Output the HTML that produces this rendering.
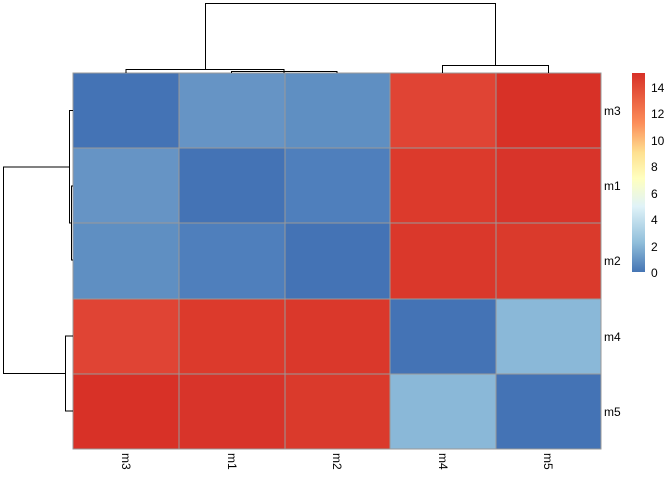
<!DOCTYPE html>
<html><head><meta charset="utf-8"><style>
html,body{margin:0;padding:0;background:#fff;width:672px;height:480px;overflow:hidden}
svg text{font-family:"Liberation Sans",sans-serif;font-size:12px;fill:#000}
</style></head><body>
<svg width="672" height="480" viewBox="0 0 672 480">
<defs><linearGradient id="g" x1="0" y1="1" x2="0" y2="0">
<stop offset="0" stop-color="#4575b4"/>
<stop offset="0.15" stop-color="#91bfdb"/>
<stop offset="0.33" stop-color="#e0f3f8"/>
<stop offset="0.47" stop-color="#ffffbf"/>
<stop offset="0.6" stop-color="#fee090"/>
<stop offset="0.75" stop-color="#fc8d59"/>
<stop offset="1" stop-color="#d73027"/>
</linearGradient></defs>
<g stroke="#999" stroke-width="1">
<rect x="73" y="73" width="106" height="75" fill="#4473b5"/>
<rect x="179" y="73" width="106" height="75" fill="#6694c5"/>
<rect x="285" y="73" width="105" height="75" fill="#5f8fc2"/>
<rect x="390" y="73" width="106" height="75" fill="#e04434"/>
<rect x="496" y="73" width="105" height="75" fill="#d83127"/>
<rect x="73" y="148" width="106" height="75" fill="#6694c5"/>
<rect x="179" y="148" width="106" height="75" fill="#4473b5"/>
<rect x="285" y="148" width="105" height="75" fill="#4f7fbc"/>
<rect x="390" y="148" width="106" height="75" fill="#dc3a2c"/>
<rect x="496" y="148" width="105" height="75" fill="#d8342a"/>
<rect x="73" y="223" width="106" height="76" fill="#5f8fc2"/>
<rect x="179" y="223" width="106" height="76" fill="#4f7fbc"/>
<rect x="285" y="223" width="105" height="76" fill="#4473b5"/>
<rect x="390" y="223" width="106" height="76" fill="#da382b"/>
<rect x="496" y="223" width="105" height="76" fill="#da3a2c"/>
<rect x="73" y="299" width="106" height="75" fill="#e04434"/>
<rect x="179" y="299" width="106" height="75" fill="#dc3a2c"/>
<rect x="285" y="299" width="105" height="75" fill="#da382b"/>
<rect x="390" y="299" width="106" height="75" fill="#4473b5"/>
<rect x="496" y="299" width="105" height="75" fill="#8ab8d8"/>
<rect x="73" y="374" width="106" height="75" fill="#d83127"/>
<rect x="179" y="374" width="106" height="75" fill="#d8342a"/>
<rect x="285" y="374" width="105" height="75" fill="#da3a2c"/>
<rect x="390" y="374" width="106" height="75" fill="#8ab8d8"/>
<rect x="496" y="374" width="105" height="75" fill="#4473b5"/>
</g>
<g fill="none" stroke="#000" stroke-width="1">
<path d="M126,73V69.5H284V73"/>
<path d="M231.5,73V71.5H337V73"/>
<path d="M205.5,69.5V3.5H495.5V65.5"/>
<path d="M442.5,73V65.5H548.5V73"/>
<path d="M73,186H71.5V260H73"/>
<path d="M73,110.5H69.5V223H71.5"/>
<path d="M73,336H65.5V411H73"/>
<path d="M69.5,167H3.5V373.5H65.5"/>
</g>
<rect x="632" y="73" width="13" height="199" fill="url(#g)"/>
<g>
<text x="651" y="277">0</text><text x="651" y="251">2</text><text x="651" y="224">4</text>
<text x="651" y="198">6</text><text x="651" y="171">8</text><text x="651" y="145">10</text>
<text x="651" y="118">12</text><text x="651" y="92">14</text>
<text x="604" y="115">m3</text><text x="604" y="190">m1</text><text x="604" y="265">m2</text>
<text x="604" y="341">m4</text><text x="604" y="416">m5</text>
<text transform="translate(122,453) rotate(90)">m3</text>
<text transform="translate(228,453) rotate(90)">m1</text>
<text transform="translate(333,453) rotate(90)">m2</text>
<text transform="translate(439,453) rotate(90)">m4</text>
<text transform="translate(544,453) rotate(90)">m5</text>
</g>
</svg>
</body></html>
